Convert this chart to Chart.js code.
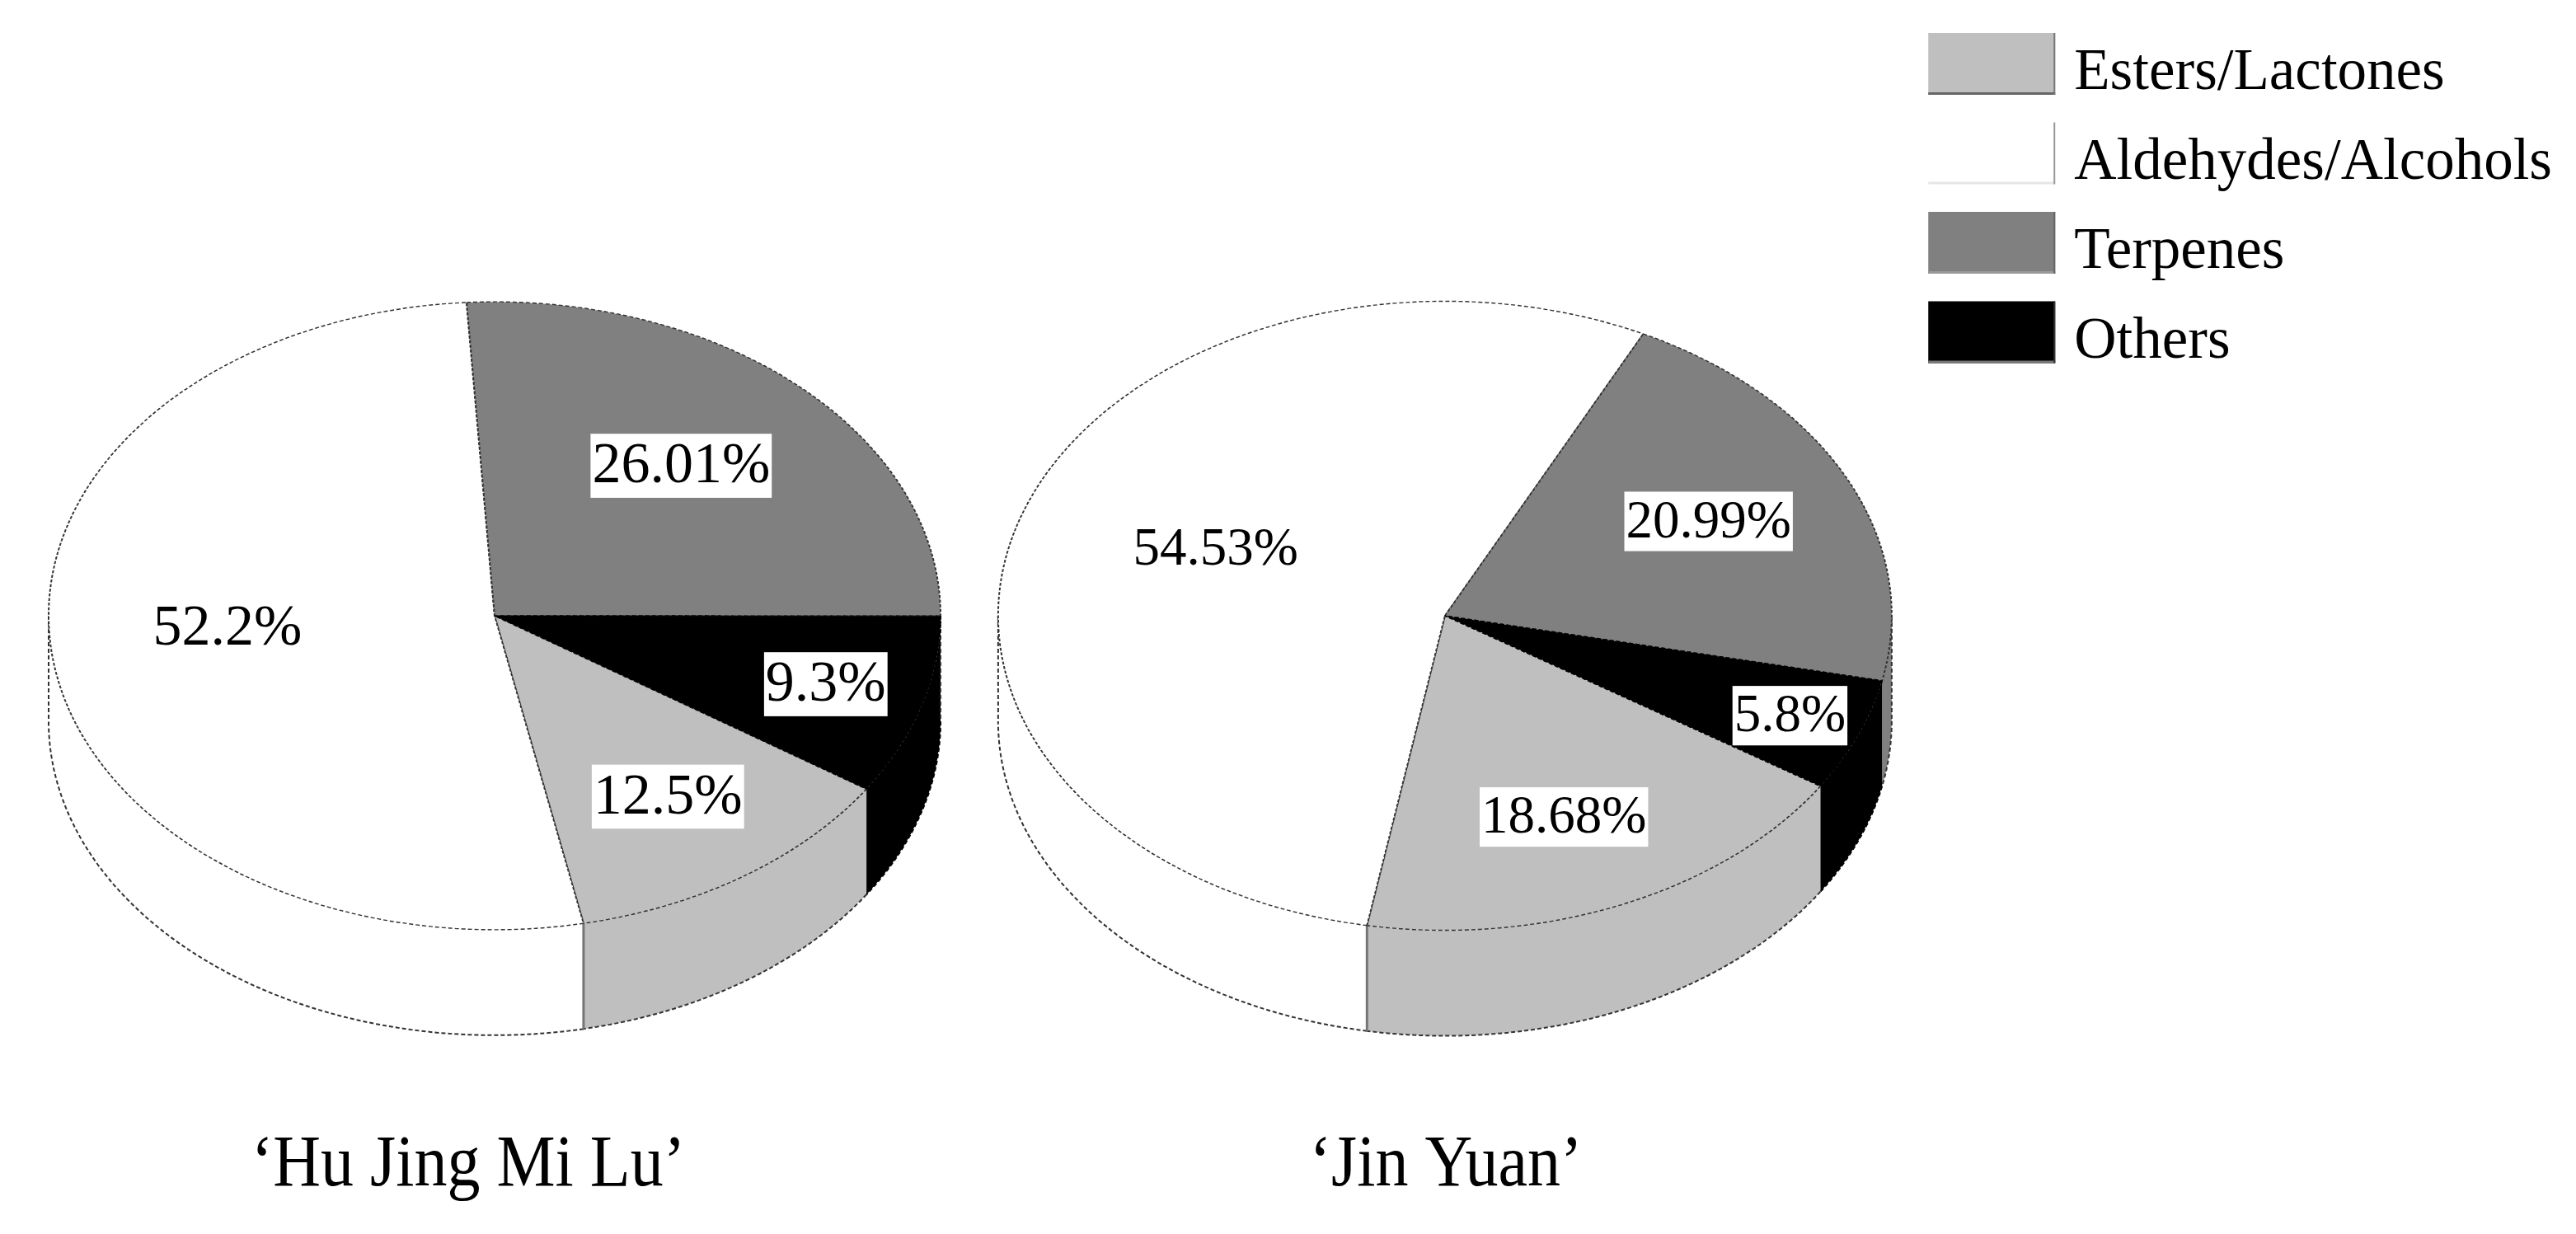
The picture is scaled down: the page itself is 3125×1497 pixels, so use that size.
<!DOCTYPE html>
<html>
<head>
<meta charset="utf-8">
<title>Volatile compounds</title>
<script src="https://cdn.jsdelivr.net/npm/chart.js@4"></script>
<style>
    html, body { margin: 0; background: #fff; overflow: hidden; }
    canvas { position: absolute; top: 0; }
    #pieLeft { left: 0; }
    #pieRight { left: 1176px; }
</style>
</head>
<body>
<canvas id="pieLeft" width="1200" height="1497"></canvas>
<canvas id="pieRight" width="1930" height="1497"></canvas>
<script>
// Chart data, same order in both pies
const categories = ['Esters/Lactones', 'Aldehydes/Alcohols', 'Terpenes', 'Others'];
const huJingValues = [12.5, 52.2, 26.01, 9.3];
const jinYuanValues = [18.68, 54.53, 20.99, 5.8];
const huJingName = '\u2018Hu Jing Mi Lu\u2019';
const jinYuanName = '\u2018Jin Yuan\u2019';

const sliceColors = ['#bfbfbf', '#ffffff', '#808080', '#000000'];
const sliceBorders = ['#333333', '#333333', '#333333', '#000000'];
const fontFamily = '"Liberation Serif", serif';

// Tilted look: the flat pie is squashed, then a wall is drawn under it
const squash = 0.704;
const wallDepth = 128;
const outlineDash = [5, 3];

// Bevel on legend swatches: [right edge, bottom edge]
const swatchEdges = [['#777777', '#666666'], ['#999999', '#e6e6e6'], ['#666666', '#999999'], ['#333333', '#777777']];
const swatchWidth = 154;
const swatchHeight = 75;

// Draw the side wall for the front half of the pie
function drawWall(chart) {
    const ctx = chart.ctx;
    const arcs = chart.getDatasetMeta(0).data;
    const cx = arcs[0].x;
    const cy = arcs[0].y;
    const rx = arcs[0].outerRadius;
    const ry = rx * squash;
    const fullTurn = Math.PI * 2;

    ctx.save();
    ctx.lineWidth = 2;
    ctx.setLineDash(outlineDash);
    arcs.forEach(function(arc, i) {
        for (let k = -1; k <= 2; k++) {
            const from = Math.max(arc.startAngle + k * fullTurn, 0);
            const to = Math.min(arc.endAngle + k * fullTurn, Math.PI);
            if (to <= from) continue;

            ctx.beginPath();
            ctx.ellipse(cx, cy, rx, ry, 0, from, to);
            ctx.ellipse(cx, cy + wallDepth, rx, ry, 0, to, from, true);
            ctx.closePath();
            ctx.fillStyle = sliceColors[i];
            ctx.fill();

            ctx.beginPath();
            ctx.ellipse(cx, cy + wallDepth, rx, ry, 0, from, to);
            ctx.strokeStyle = sliceBorders[i];
            ctx.stroke();
        }
    });

    // Outer edges of the wall
    ctx.strokeStyle = '#333333';
    ctx.beginPath();
    ctx.moveTo(cx - rx, cy);
    ctx.lineTo(cx - rx, cy + wallDepth);
    ctx.moveTo(cx + rx, cy);
    ctx.lineTo(cx + rx, cy + wallDepth);
    ctx.stroke();

    // Seam on the wall where white meets grey
    const seam = arcs[1].startAngle < Math.PI ? arcs[1].startAngle : arcs[1].startAngle - fullTurn;
    const seamX = cx + Math.cos(seam) * rx;
    const seamY = cy + Math.sin(seam) * ry;
    ctx.beginPath();
    ctx.moveTo(seamX, seamY);
    ctx.lineTo(seamX, seamY + wallDepth);
    ctx.setLineDash([]);
    ctx.lineWidth = 3;
    ctx.strokeStyle = '#777777';
    ctx.stroke();
    ctx.restore();
}

// Percent labels with a white plate behind them
function drawValueLabels(chart, opts) {
    const ctx = chart.ctx;
    const arcs = chart.getDatasetMeta(0).data;
    const values = chart.data.datasets[0].data;
    const plateHeight = opts.labelSize * 1.11;

    ctx.save();
    ctx.font = opts.labelSize + 'px ' + fontFamily;
    ctx.textAlign = 'center';
    ctx.textBaseline = 'middle';
    arcs.forEach(function(arc, i) {
        const mid = (arc.startAngle + arc.endAngle) / 2 + opts.labelTurn[i];
        const dist = arc.outerRadius * opts.labelReach[i];
        const x = arc.x + Math.cos(mid) * dist;
        const y = arc.y + Math.sin(mid) * dist * squash;
        const text = values[i] + '%';
        const w = ctx.measureText(text).width + 4;
        ctx.fillStyle = '#ffffff';
        ctx.fillRect(x - w / 2, y - plateHeight / 2, w, plateHeight);
        ctx.fillStyle = '#000000';
        ctx.fillText(text, x, y + 2);
    });
    ctx.restore();
}

// Cultivar name under the pie, the original type is a bit taller than wide
function drawCaption(chart, opts) {
    const ctx = chart.ctx;
    ctx.save();
    ctx.font = '80px ' + fontFamily;
    ctx.textAlign = 'center';
    ctx.fillStyle = '#000000';
    ctx.translate(opts.nameX, 1438);
    ctx.scale(1, 1.12);
    ctx.fillText(opts.name, 0, 0);
    ctx.restore();
}

// Legend swatches with the small bevel of the original
function drawSwatches(chart) {
    const legend = chart.legend;
    if (!legend || !legend.options.display) return;
    const ctx = chart.ctx;
    const h = swatchHeight;
    ctx.save();
    legend.legendHitBoxes.forEach(function(hit, i) {
        ctx.fillStyle = sliceColors[i];
        ctx.fillRect(hit.left, hit.top, swatchWidth, h);
        ctx.fillStyle = swatchEdges[i][1];
        ctx.fillRect(hit.left, hit.top + h - 3, swatchWidth, 3);
        ctx.fillStyle = swatchEdges[i][0];
        ctx.fillRect(hit.left + swatchWidth - 2, hit.top, 2, h);
    });
    ctx.restore();
}

const tiltPlugin = {
    id: 'tilt',
    beforeDatasetsDraw(chart) {
        drawWall(chart);
        const arc = chart.getDatasetMeta(0).data[0];
        const ctx = chart.ctx;
        ctx.save();
        ctx.translate(arc.x, arc.y);
        ctx.scale(1, squash);
        ctx.translate(-arc.x, -arc.y);
    },
    afterDatasetsDraw(chart, args, opts) {
        chart.ctx.restore();
        drawValueLabels(chart, opts);
        drawCaption(chart, opts);
    },
    afterDraw(chart) {
        drawSwatches(chart);
    }
};

function makePie(canvasId, values, rotation, radius, showLegend, labelOpts) {
    return new Chart(document.getElementById(canvasId), {
        type: 'pie',
        data: {
            labels: categories,
            datasets: [{
                data: values,
                backgroundColor: sliceColors,
                borderColor: sliceBorders,
                borderWidth: 2,
                borderDash: outlineDash,
                clip: false
            }]
        },
        options: {
            responsive: false,
            animation: false,
            rotation: rotation,
            radius: radius,
            layout: { padding: { top: 30.5, bottom: 33.5 } },
            plugins: {
                legend: {
                    display: showLegend,
                    position: 'right',
                    align: 'start',
                    labels: {
                        // taller than the swatch so the text sits lower, as in the original
                        boxWidth: 141.5,
                        boxHeight: 99,
                        padding: 9.5,
                        color: '#000000',
                        font: { family: fontFamily, size: 71 },
                        generateLabels(chart) {
                            return Chart.overrides.doughnut.plugins.legend.labels.generateLabels(chart)
                                .map(item => Object.assign(item, { lineWidth: 0, fillStyle: 'transparent' }));
                        }
                    }
                },
                tooltip: { enabled: false },
                tilt: labelOpts
            }
        },
        plugins: [tiltPlugin]
    });
}

document.addEventListener('DOMContentLoaded', function() {
    makePie('pieLeft', huJingValues, 123.5, 541, false, {
        name: huJingName,
        nameX: 568,
        labelSize: 70,
        labelReach: [0.695, 0.60, 0.635, 0.774],
        labelTurn: [0, 0.07, -0.035, -0.007]
    });
    makePie('pieRight', jinYuanValues, 122.8, 542, true, {
        name: jinYuanName,
        nameX: 578,
        labelSize: 65,
        labelReach: [0.693, 0.555, 0.662, 0.835],
        labelTurn: [0.017, 0.073, -0.019, 0]
    });
});
</script>
</body>
</html>
